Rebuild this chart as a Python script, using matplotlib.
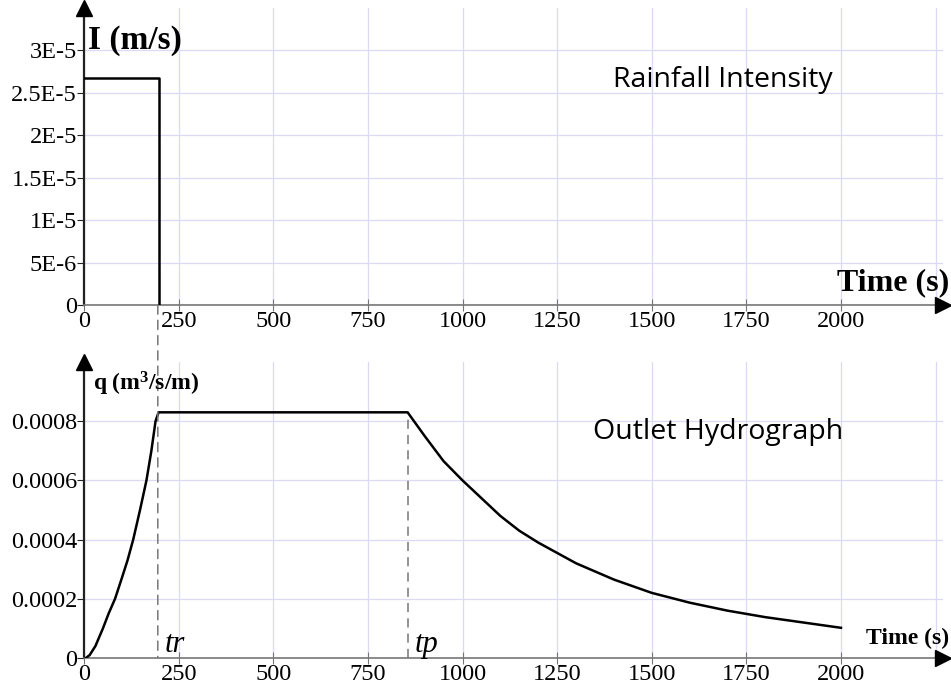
import matplotlib
matplotlib.use("Agg")
import matplotlib.pyplot as plt
from matplotlib.patches import ConnectionPatch

plt.rcParams["mathtext.fontset"] = "custom"
plt.rcParams["mathtext.rm"] = "Liberation Serif"
plt.rcParams["mathtext.bf"] = "Liberation Serif:bold"
plt.rcParams["mathtext.it"] = "Liberation Serif:italic"

# ---- data ----
x_ticks = [0, 250, 500, 750, 1000, 1250, 1500, 1750, 2000, 2250]
x_tick_labels = ["0", "250", "500", "750", "1000", "1250", "1500", "1750", "2000", ""]

rain_t = [0, 197, 197]
rain_i = [2.67e-5, 2.67e-5, 0.0]
rain_yticks = [0, 5e-6, 1e-5, 1.5e-5, 2e-5, 2.5e-5, 3e-5]
rain_ylabels = ["0", "5E-6", "1E-5", "1.5E-5", "2E-5", "2.5E-5", "3E-5"]

q_t = [5, 15, 30, 50, 65, 82, 100, 115, 130, 148, 165, 178, 189, 197,
       855, 900, 950, 1000, 1050, 1100, 1150, 1200, 1300, 1400, 1500,
       1600, 1700, 1800, 1900, 2000]
q_v = [0.0, 0.00001, 0.00004, 0.0001, 0.00015, 0.0002, 0.00027, 0.00033, 0.0004,
       0.0005, 0.0006, 0.0007, 0.0008, 0.00083,
       0.00083, 0.00075, 0.000665, 0.0006, 0.00054, 0.00048, 0.00043, 0.00039,
       0.00032, 0.000265, 0.00022, 0.000187, 0.00016, 0.000138, 0.00012, 0.000102]
q_yticks = [0, 0.0002, 0.0004, 0.0006, 0.0008]
q_ylabels = ["0", "0.0002", "0.0004", "0.0006", "0.0008"]

tr = 195
tp = 855

W, H = 951, 689
fig = plt.figure(figsize=(W / 100, H / 100), dpi=100)

serif = ["Liberation Serif", "DejaVu Serif"]
sans = ["Open Sans", "DejaVu Sans"]
grid_c = "#dadaf6"
XMAX = 2270
TICK_FS = 17.5

def setup(ax, ymax):
    ax.set_xlim(0, XMAX)
    ax.set_ylim(0, ymax)
    for s in ["top", "right"]:
        ax.spines[s].set_visible(False)
    ax.spines["left"].set_color("#222222")
    ax.spines["left"].set_linewidth(1.6)
    ax.spines["bottom"].set_color("#777777")
    ax.spines["bottom"].set_linewidth(1.2)
    ax.set_xticks(x_ticks)
    ax.set_xticklabels(x_tick_labels, fontfamily=serif, fontsize=TICK_FS)
    ax.tick_params(axis="x", direction="inout", length=8, color="#777777", pad=0)
    ax.tick_params(axis="y", direction="out", length=5, color="#222222", pad=0)
    ax.grid(True, color=grid_c, linewidth=0.9)
    ax.set_axisbelow(True)
    ax.plot([0], [1.0], marker="^", markersize=11, color="black",
            transform=ax.transAxes, clip_on=False, zorder=5)
    ax.plot([1.0], [0], marker=">", markersize=11, color="black",
            transform=ax.transAxes, clip_on=False, zorder=5)

x0 = 84 / W
x1 = (84 + XMAX * 0.3785) / W

# top axes
ax1 = fig.add_axes([x0, 1 - 305 / H, x1 - x0, (305 - 8) / H])
setup(ax1, 3.5e-5)
ax1.set_yticks(rain_yticks)
ax1.set_yticklabels(rain_ylabels, fontfamily=serif, fontsize=TICK_FS)
ax1.plot(rain_t, rain_i, color="black", linewidth=1.8, zorder=4)
fig.text(88 / W, 1 - 25 / H, "I (m/s)", fontfamily=serif,
         fontsize=24, fontweight="bold", va="top", ha="left")
fig.text(949 / W, 1 - 297 / H, "Time (s)", fontfamily=serif,
         fontsize=23, fontweight="bold", va="bottom", ha="right", zorder=6)
fig.text(723 / W, 1 - 80 / H, "Rainfall Intensity", fontfamily=sans,
         fontsize=20.5, va="center", ha="center")

# bottom axes
ax2 = fig.add_axes([x0, 1 - 658 / H, x1 - x0, (658 - 362) / H])
setup(ax2, 0.001)
ax2.set_yticks(q_yticks)
ax2.set_yticklabels(q_ylabels, fontfamily=serif, fontsize=TICK_FS)
ax2.plot(q_t, q_v, color="black", linewidth=1.8, zorder=4)
fig.text(93 / W, 1 - 390 / H, r"$\mathbf{q\ (m^3/s/m)}$", fontsize=17,
         va="baseline", ha="left")
fig.text(949 / W, 1 - 649 / H, "Time (s)", fontfamily=serif,
         fontsize=17, fontweight="bold", va="bottom", ha="right", zorder=6)
fig.text(718 / W, 1 - 432 / H, "Outlet Hydrograph", fontfamily=sans,
         fontsize=20.5, va="center", ha="center")
ax2.text(tr + 18, 0.00002, "tr", fontfamily=serif, fontstyle="italic", fontsize=22,
         va="baseline", ha="left")
ax2.text(tp + 18, 0.00002, "tp", fontfamily=serif, fontstyle="italic", fontsize=22,
         va="baseline", ha="left")

con = ConnectionPatch(xyA=(tr, 0), coordsA=ax1.transData, xyB=(tr, 0), coordsB=ax2.transData,
                      color="#777777", linestyle=(0, (6, 4)), linewidth=1.1, zorder=3)
fig.add_artist(con)
ax2.plot([tp, tp], [0, 0.00083], color="#777777", linestyle=(0, (6, 4)), linewidth=1.1, zorder=3)

fig.savefig("out.png", dpi=100)
